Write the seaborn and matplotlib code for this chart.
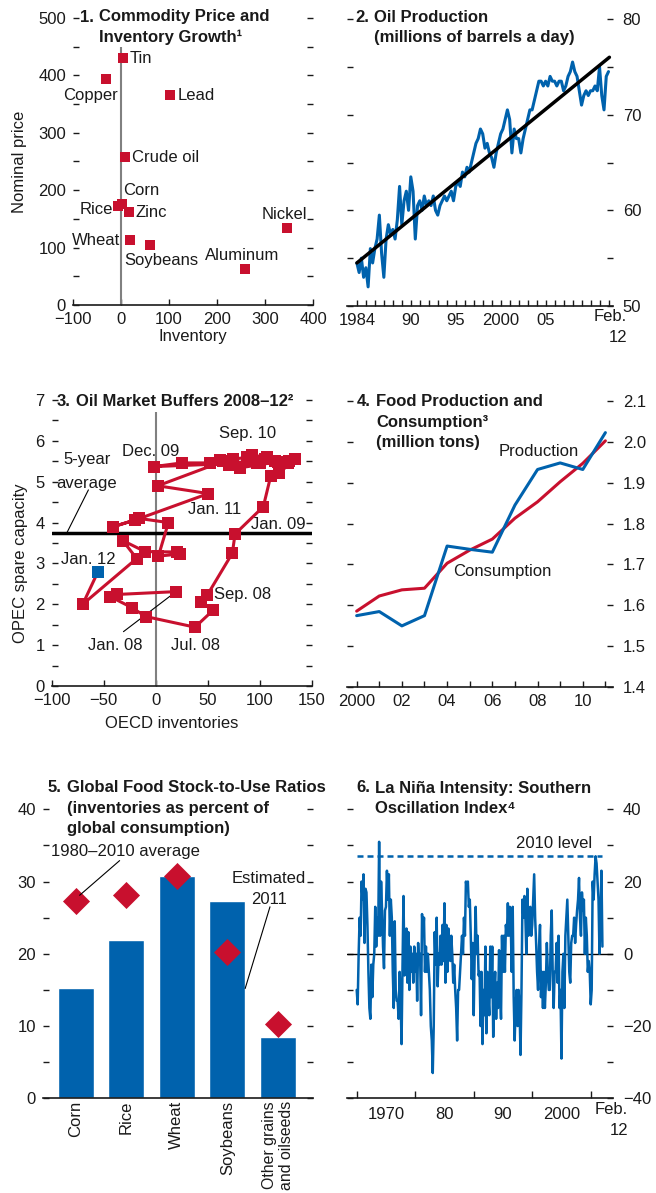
import numpy as np
import matplotlib
matplotlib.use('Agg')
import matplotlib.pyplot as plt
import seaborn as sns
from matplotlib import font_manager

# ---------------- data ----------------
# 1. Commodity price and inventory growth
commodities = ['Tin', 'Copper', 'Lead', 'Crude oil', 'Corn', 'Rice', 'Zinc',
               'Wheat', 'Soybeans', 'Nickel', 'Aluminum']
inventory_growth = [3.5, -31, 102, 8, 2, -6, 17, 19, 60, 345, 258]
price_growth = [430, 394, 365, 257, 176, 173, 162, 113, 105, 134, 63]

# 2. Oil production, quarterly from 1984 Q1 to early 2012
oil_production = [
    54.5, 53.5, 55.0, 53.0,  # 1984
    54.0, 52.0, 56.0, 54.5,  # 1985
    56.0, 57.0, 59.5, 55.5,  # 1986
    53.0, 57.0, 58.5, 57.5,  # 1987
    58.0, 57.0, 59.0, 62.5,  # 1988
    58.5, 61.0, 62.0, 60.0,  # 1989
    63.5, 62.0, 57.0, 60.5,  # 1990
    61.0, 60.0, 61.5, 60.5,  # 1991
    61.0, 60.5, 61.5, 60.0,  # 1992
    59.5, 60.5, 61.0, 61.5,  # 1993
    61.0, 61.5, 62.0, 61.0,  # 1994
    62.5, 63.0, 62.5, 64.0,  # 1995
    63.5, 64.5, 64.0, 65.0,  # 1996
    66.0, 67.0, 67.5, 68.5,  # 1997
    68.0, 66.5, 67.0, 66.0,  # 1998
    65.5, 64.5, 66.0, 67.0,  # 1999
    68.0, 68.5, 69.5, 70.5,  # 2000
    69.5, 66.0, 68.5, 67.5,  # 2001
    67.5, 66.0, 67.5, 68.5,  # 2002
    69.5, 70.5, 70.5, 71.5,  # 2003
    72.5, 73.5, 73.5, 73.0,  # 2004
    73.5, 73.0, 74.0, 73.5,  # 2005
    73.5, 73.0, 73.5, 73.5,  # 2006
    72.5, 73.0, 74.0, 74.5,  # 2007
    75.5, 74.5, 74.0, 72.5,  # 2008
    71.0, 72.0, 72.5, 72.0,  # 2009
    72.5, 72.5, 73.0, 72.5,  # 2010
    75.0, 72.0, 70.5, 74.0,  # 2011
    74.5,                    # 2012
]
oil_start_year = 1984
trend_years = [1984, 2012.1]
trend_level = [54.5, 76.0]

# 3. Oil market buffers, monthly path Jan 2008 - Jan 2012
oecd_inventories = [
    19.6, -37.5, -43.9, -23.0, -9.6, 37.8, 55.4, 43.6, 49.7, 73.7, 76.3,
    103.5, 110.6, 118.9, 134.0, 127.6, 106.7, 92.3, 97.0, 81.0, 118.0, -1.6,
    25.0, 52.2, 61.9, 70.8, 74.7, 88.0, 105.0, 115.0, 128.0, 100.0, 65.0, 2.0,
    50.6, -19.9, -40.7, -15.7, 12.2, 2.6, 23.4, 20.0, -10.3, -31.7, -18.3,
    -70.2, -55.8,
]
opec_spare_capacity = [
    2.31, 2.24, 2.19, 1.92, 1.70, 1.44, 1.86, 2.06, 2.23, 3.25, 3.72,
    4.39, 5.14, 5.22, 5.55, 5.45, 5.60, 5.65, 5.45, 5.34, 5.49, 5.37,
    5.46, 5.46, 5.53, 5.41, 5.55, 5.60, 5.55, 5.50, 5.50, 5.45, 5.50, 4.90,
    4.71, 4.06, 3.90, 4.10, 4.00, 3.18, 3.23, 3.28, 3.29, 3.56, 3.12,
    2.00, 2.78,
]
five_year_average = 3.75

# 4. Food production and consumption
food_years = list(range(2000, 2012))
food_production = [1.575, 1.585, 1.550, 1.575, 1.745, 1.737, 1.730, 1.845,
                   1.932, 1.948, 1.932, 2.022]
food_consumption = [1.586, 1.623, 1.638, 1.642, 1.703, 1.735, 1.762, 1.813,
                    1.853, 1.902, 1.947, 2.002]

# 5. Global food stock-to-use ratios
crops = ['Corn', 'Rice', 'Wheat', 'Soybeans', 'Other grains\nand oilseeds']
stocks_2011 = [15.2, 21.9, 30.8, 27.3, 8.5]
stocks_avg_1980_2010 = [27.3, 28.2, 30.8, 20.3, 10.3]

# 6. Southern Oscillation Index, six readings a year from 1970 to early 2012
soi_index = [
    -10, -14, 0, 10, 5, 20,        # 1970
    15, 22, 3, 18, 17, 8,          # 1971
    -5, -15, -18, -3, -12, -3,     # 1972
    0, 13, 2, 10, 5, 31,           # 1973
    5, 20, 12, 2, -4, 12,          # 1974
    13, 23, 15, 22, 5, 15,         # 1975
    10, -5, -15, 9, -10, -13,      # 1976
    -13, -18, -5, -12, -25, -3,    # 1977
    16, -6, 0, 7, -8, 6,           # 1978
    -10, 2, -5, 0, -8, 2,          # 1979
    -5, 0, -13, 3, -3, 0,          # 1980
    -17, 11, 5, 10, -5, 2,         # 1981
    -5, 0, -5, -10, -20, -24,      # 1982
    -33, -20, 6, -3, 10, -9,       # 1983
    0, -3, 5, -3, 8, -2,           # 1984
    14, -8, 8, -5, 7, 0,           # 1985
    -2, 5, 0, -8, -3, -10,         # 1986
    -15, -24, -10, -10, -5, 0,     # 1987
    5, 0, 10, 5, 20, 18,           # 1988
    20, 13, 15, 5, -7, 3,          # 1989
    -17, 0, 13, 0, 5, -6,          # 1990
    -5, -20, -5, -25, -10, -17,    # 1991
    2, -22, -5, -12, -17, 2,       # 1992
    -12, 2, -23, -10, -5, -18,     # 1993
    -8, -15, 1, -10, -18, 5,       # 1994
    -5, 5, -5, 8, 5, 14,           # 1995
    5, 13, 8, -5, 13, -12,         # 1996
    -24, -15, -10, -20, -10, -15,  # 1997
    -28, -10, 15, 10, 16, 10,      # 1998
    0, 18, 5, 10, 13, 5,           # 1999
    8, 15, 22, 10, 3, -5,          # 2000
    -10, 2, 8, -12, -5, -15,       # 2001
    -5, -15, -8, 3, -5, -10,       # 2002
    -10, 5, 12, -5, -15, -5,       # 2003
    -5, 3, -8, 5, -15, -10,        # 2004
    -29, -5, 0, -15, 5, 10,        # 2005
    15, 5, -5, -8, 3, 5,           # 2006
    5, 10, 3, 8, 12, 15,           # 2007
    21, 10, 5, 17, 12, 15,         # 2008
    0, 10, 5, -5, -2, -5,          # 2009
    -14, -10, 20, 15, 22, 27,      # 2010
    25, 20, 15, 0, 10, 23,         # 2011
    2,                             # 2012
]
soi_start_year = 1970
soi_per_year = 6
soi_level_2010 = 27

# ---------------- style ----------------
RED = '#C8102E'
BLUE = '#0062AD'
GREY = '#808080'
INK = '#1a1a1a'

sns.set_theme(style='white')
plt.rcParams['font.family'] = ['Liberation Sans', 'DejaVu Sans']
plt.rcParams['axes.unicode_minus'] = True

installed = {f.name for f in font_manager.fontManager.ttflist}
if 'Liberation Sans Narrow' in installed:
    TITLE_FONT = ['Liberation Sans Narrow', 'DejaVu Sans']
    TITLE_SIZE = 14
else:
    TITLE_FONT = ['Liberation Sans', 'DejaVu Sans']
    TITLE_SIZE = 12

W, H = 656, 1193
fig = plt.figure(figsize=(W / 100, H / 100), dpi=100)
fig.patch.set_facecolor('white')


def add_axes(left, top, right, bottom):
    return fig.add_axes([left / W, 1 - bottom / H, (right - left) / W, (bottom - top) / H])


def fig_text(x, y, s, **kw):
    return fig.text(x / W, 1 - y / H, s, **kw)


def panel_title(x, baseline, number, lines, step=20.3):
    # number hangs to the left, the lines are indented under the first word
    fig_text(x, baseline, number, family=TITLE_FONT, size=TITLE_SIZE, weight='bold',
             va='baseline', ha='left', color=INK)
    for i, line in enumerate(lines):
        fig_text(x + 19, baseline + i * step, line, family=TITLE_FONT, size=TITLE_SIZE,
                 weight='bold', va='baseline', ha='left', color=INK)


def style_axes(ax, labels_on='left', tick_len=4):
    sns.despine(ax=ax, left=True, right=True, top=True)
    ax.set_facecolor('white')
    ax.spines['bottom'].set_color(INK)
    ax.spines['bottom'].set_linewidth(1.2)
    ax.tick_params(which='both', direction='in', length=tick_len, width=1.0,
                   color=INK, labelsize=12, labelcolor=INK)
    ax.tick_params(axis='y', which='both', left=True, right=True,
                   labelleft=labels_on == 'left', labelright=labels_on == 'right',
                   pad=5 if labels_on == 'left' else 7)
    ax.tick_params(axis='x', which='both', bottom=True, top=False, pad=5)
    ax.set_xlabel('')
    ax.set_ylabel('')
    ax.grid(False)


# ---------------- 1. commodity prices ----------------
ax1 = add_axes(73, 18, 313, 305)
ax1.vlines(0, 0, 450, color=GREY, lw=1.5, zorder=1)
sns.scatterplot(x=inventory_growth, y=price_growth, marker='s', s=55, color=RED,
                linewidth=0, ax=ax1, zorder=3)
ax1.set_xlim(-100, 400)
ax1.set_ylim(0, 500)
ax1.set_xticks(np.arange(-100, 401, 100))
ax1.set_yticks(np.arange(0, 501, 100))
ax1.set_yticks(np.arange(50, 500, 100), minor=True)
style_axes(ax1, 'left')
ax1.set_xlabel('Inventory', fontsize=12, color=INK)
ax1.xaxis.set_label_coords(0.5, -0.085)
ax1.set_ylabel('Nominal price', fontsize=12, color=INK)
ax1.yaxis.set_label_coords(-0.19, 0.5)

p1_labels = {
    'Tin': (19, 430, 'left'), 'Copper': (-7, 365, 'right'),
    'Lead': (119, 365, 'left'), 'Crude oil': (22, 257, 'left'),
    'Corn': (4, 199, 'left'), 'Rice': (-16, 167, 'right'),
    'Zinc': (31, 162, 'left'), 'Wheat': (-1, 113, 'right'),
    'Soybeans': (6, 77, 'left'), 'Nickel': (341, 158, 'center'),
    'Aluminum': (253, 87, 'center'),
}
for name in commodities:
    x, y, ha = p1_labels[name]
    ax1.text(x, y, name, ha=ha, va='center', fontsize=12, color=INK)
panel_title(80, 21.5, '1.', ['Commodity Price and', 'Inventory Growth\u00b9'])

# ---------------- 2. oil production ----------------
ax2 = add_axes(347, 19, 613, 306)
oil_t = oil_start_year + np.arange(len(oil_production)) / 4
sns.lineplot(x=oil_t, y=oil_production, color=BLUE, lw=2.2, ax=ax2)
sns.lineplot(x=trend_years, y=trend_level, color='black', lw=2.5, ax=ax2)
ax2.set_xlim(1982.9, 2012.5)
ax2.set_ylim(50, 80)
years2 = np.arange(1984, 2013)
names2 = {1984: '1984', 1990: '90', 1995: '95', 2000: '2000', 2005: '05'}
ax2.set_xticks(years2, [names2.get(y, '') for y in years2])
ax2.set_yticks(np.arange(50, 81, 10))
ax2.set_yticks(np.arange(55, 80, 10), minor=True)
style_axes(ax2, 'right')
fig_text(627, 309, 'Feb.\n12', ha='right', va='top', multialignment='right',
         fontsize=12, linespacing=1.5, color=INK)
panel_title(355, 21.5, '2.', ['Oil Production', '(millions of barrels a day)'])

# ---------------- 3. oil market buffers ----------------
ax3 = add_axes(51.7, 400, 311.7, 686)
ax3.vlines(0, 0, 6.7, color=GREY, lw=1.5, zorder=1)
ax3.axhline(five_year_average, color='black', lw=2.5, zorder=2)
sns.lineplot(x=oecd_inventories, y=opec_spare_capacity, sort=False, estimator=None,
             color=RED, lw=2.2, marker='s', markersize=8.5, markeredgewidth=0,
             ax=ax3, zorder=3)
sns.scatterplot(x=oecd_inventories[-1:], y=opec_spare_capacity[-1:], marker='s',
                s=75, color=BLUE, linewidth=0, ax=ax3, zorder=4)
ax3.set_xlim(-100, 150)
ax3.set_ylim(0, 7)
ax3.set_xticks(np.arange(-100, 151, 50))
ax3.set_yticks(np.arange(0, 8, 1))
ax3.set_yticks(np.arange(0.5, 7, 1), minor=True)
style_axes(ax3, 'left')
ax3.set_xlabel('OECD inventories', fontsize=12, color=INK)
ax3.xaxis.set_label_coords(0.46, -0.105)
ax3.set_ylabel('OPEC spare capacity', fontsize=12, color=INK)
ax3.yaxis.set_label_coords(-0.092, 0.43)

p3_labels = [
    ('Sep. 10', 88, 6.18), ('Dec. 09', -4.5, 5.73), ('5-year\naverage', -66, 5.25),
    ('Jan. 11', 57, 4.31), ('Jan. 09', 118, 3.96), ('Jan. 12', -64.7, 3.1),
    ('Sep. 08', 84, 2.25), ('Jan. 08', -39, 1.0), ('Jul. 08', 37.8, 1.0),
]
for name, x, y in p3_labels:
    ax3.text(x, y, name, ha='center', va='center', fontsize=12, color=INK,
             linespacing=1.75)
ax3.plot([-85.6, -64.7], [3.74, 4.8], color='black', lw=0.8)
ax3.plot([-31, 15.4], [1.33, 2.23], color='black', lw=0.8)
panel_title(57, 406.5, '3.', ['Oil Market Buffers 2008\u201312\u00b2'])

# ---------------- 4. food production ----------------
ax4 = add_axes(346.7, 400.7, 613.3, 687.3)
sns.lineplot(x=food_years, y=food_consumption, color=RED, lw=2.2, ax=ax4)
sns.lineplot(x=food_years, y=food_production, color=BLUE, lw=2.2, ax=ax4)
ax4.set_xlim(1999.56, 2011.35)
ax4.set_ylim(1.4, 2.1)
ax4.set_xticks(food_years, [('2000' if y == 2000 else f'{y % 100:02d}') if y % 2 == 0 else ''
                            for y in food_years])
ax4.set_yticks(np.round(np.arange(1.4, 2.11, 0.1), 1),
               [f'{v:.1f}' for v in np.arange(1.4, 2.11, 0.1)])
style_axes(ax4, 'right')
ax4.text(2008.07, 1.975, 'Production', ha='center', va='center', fontsize=12, color=INK)
ax4.text(2006.44, 1.682, 'Consumption', ha='center', va='center', fontsize=12, color=INK)
panel_title(357, 406.5, '4.', ['Food Production and', 'Consumption\u00b3', '(million tons)'])

# ---------------- 5. stock-to-use ratios ----------------
ax5 = add_axes(42.7, 809.3, 313, 1098.3)
sns.barplot(x=crops, y=stocks_2011, color=BLUE, saturation=1, width=0.71,
            errorbar=None, ax=ax5)
sns.scatterplot(x=np.arange(len(crops)), y=stocks_avg_1980_2010, marker='D', s=190,
                color=RED, linewidth=0, ax=ax5, zorder=4)
ax5.set_xlim(-0.65, 4.69)
ax5.set_ylim(0, 40)
ax5.set_yticks(np.arange(0, 41, 10))
ax5.set_yticks(np.arange(5, 40, 10), minor=True)
style_axes(ax5, 'left')
ax5.tick_params(axis='x', length=0, pad=2)
ax5.set_xticks(np.arange(len(crops)), crops, rotation=90, va='top', ha='center',
               fontsize=12)
for lab in ax5.get_xticklabels():
    lab.set_multialignment('right')
    lab.set_linespacing(1.1)
    if '\n' in lab.get_text():
        lab.set_fontsize(11.4)
ax5.text(0.99, 34.1, '1980\u20132010 average', ha='center', va='center', fontsize=12, color=INK)
ax5.plot([0.87, 0.08], [32.9, 28.1], color='black', lw=0.8, zorder=5)
ax5.text(3.82, 28.9, 'Estimated\n2011', ha='center', va='center', fontsize=12,
         color=INK, linespacing=1.5)
ax5.plot([3.84, 3.35], [26.5, 15.2], color='black', lw=0.8, zorder=5)
panel_title(48, 792.5, '5.', ['Global Food Stock-to-Use Ratios',
                              '(inventories as percent of', 'global consumption)'])

# ---------------- 6. southern oscillation index ----------------
ax6 = add_axes(346.7, 809.3, 613.3, 1098.3)
soi_t = soi_start_year + np.arange(len(soi_index)) / soi_per_year
ax6.axhline(0, color='black', lw=1.0, zorder=1)
sns.lineplot(x=soi_t, y=soi_index, color=BLUE, lw=1.8, ax=ax6, zorder=2)
ax6.hlines(soi_level_2010, soi_t[0], soi_t[-1], colors=BLUE,
           linestyles=(0, (2.4, 1.6)), lw=1.8, zorder=3)
ax6.set_xlim(1968.29, 2013.86)
ax6.set_ylim(-40, 40)
ax6.set_xticks(np.arange(1970, 2011, 10), [''] * 5)
ax6.set_xticks([1975, 1985, 1995, 2005], ['1970', '80', '90', '2000'], minor=True)
ax6.set_yticks(np.arange(-40, 41, 20))
ax6.set_yticks(np.arange(-30, 31, 20), minor=True)
style_axes(ax6, 'right')
ax6.tick_params(axis='x', which='major', length=5)
ax6.tick_params(axis='x', which='minor', length=0, pad=6)
ax6.text(2010.2, 30.6, '2010 level', ha='right', va='center', fontsize=12, color=INK)
fig_text(628, 1102, 'Feb.\n12', ha='right', va='top', multialignment='right',
         fontsize=12, linespacing=1.5, color=INK)
panel_title(356, 792.5, '6.', ['La Ni\u00f1a Intensity: Southern', 'Oscillation Index\u2074'])

fig.savefig('out.png', dpi=100, facecolor='white')
